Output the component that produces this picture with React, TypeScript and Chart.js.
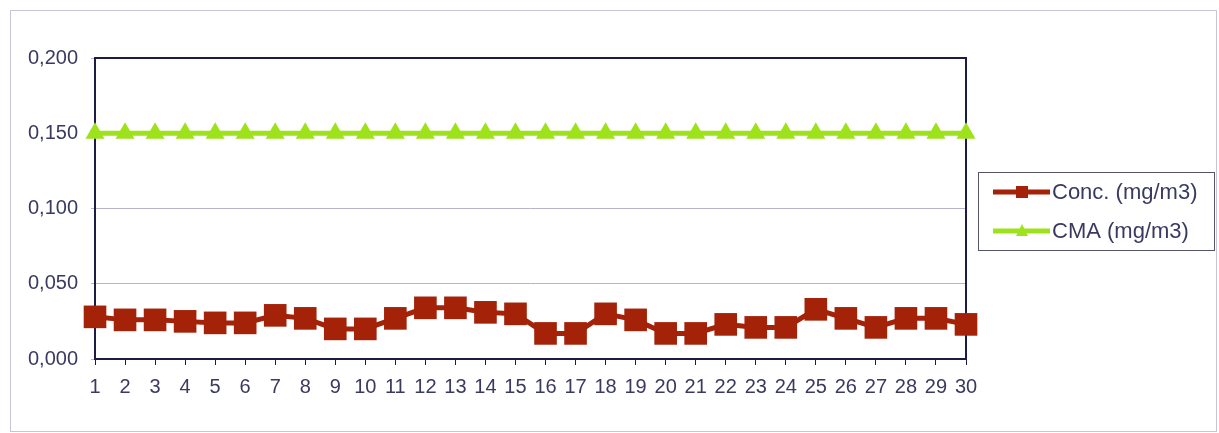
import React, { useEffect, useRef } from "react";
import { Chart, registerables } from "chart.js";

Chart.register(...registerables);

const categories: string[] = Array.from({ length: 30 }, (_, i) => String(i + 1));
const concValues: number[] = [
  0.028, 0.026, 0.026, 0.025, 0.024, 0.024, 0.029, 0.027, 0.020, 0.020,
  0.027, 0.034, 0.034, 0.031, 0.030, 0.017, 0.017, 0.030, 0.026, 0.017,
  0.017, 0.023, 0.021, 0.021, 0.033, 0.027, 0.021, 0.027, 0.027, 0.023,
];
const cmaValues: number[] = [
  0.15, 0.15, 0.15, 0.15, 0.15, 0.15, 0.15, 0.15, 0.15, 0.15,
  0.15, 0.15, 0.15, 0.15, 0.15, 0.15, 0.15, 0.15, 0.15, 0.15,
  0.15, 0.15, 0.15, 0.15, 0.15, 0.15, 0.15, 0.15, 0.15, 0.15,
];
const seriesLabels: string[] = ["Conc. (mg/m3)", "CMA (mg/m3)"];
const yTicks: number[] = [0, 0.05, 0.1, 0.15, 0.2];

const FONT = "'Liberation Sans', Arial, sans-serif";
const TEXT_COLOR = "#3a3a60";
const CONC_COLOR = "#a32208";
const CMA_COLOR = "#9ee21c";

const framePlugin = {
  id: "frame",
  beforeDraw(chart: any) {
    const ctx = chart.ctx;
    ctx.save();
    ctx.fillStyle = "#ffffff";
    ctx.fillRect(0, 0, chart.width, chart.height);
    ctx.strokeStyle = "#c9c4dc";
    ctx.lineWidth = 1;
    ctx.strokeRect(10.5, 10.5, chart.width - 13, chart.height - 12);
    ctx.restore();
  },
  beforeDatasetsDraw(chart: any) {
    const { ctx, chartArea } = chart;
    ctx.save();
    ctx.strokeStyle = "#1c1c44";
    ctx.lineWidth = 2;
    ctx.strokeRect(chartArea.left, chartArea.top, chartArea.right - chartArea.left, chartArea.bottom - chartArea.top);
    ctx.restore();
  },
  afterDraw(chart: any) {
    const ctx = chart.ctx;
    const x = 978, y = 172, w = 236, h = 78;
    ctx.save();
    ctx.strokeStyle = "#55556a";
    ctx.lineWidth = 1;
    ctx.strokeRect(x + 0.5, y + 0.5, w, h);
    const entries = [
      { label: chart.data.datasets[0].label, color: CONC_COLOR, shape: "rect", cy: y + 20 },
      { label: chart.data.datasets[1].label, color: CMA_COLOR, shape: "tri", cy: y + 59 },
    ];
    ctx.font = `22px ${FONT}`;
    ctx.textBaseline = "middle";
    for (const e of entries) {
      ctx.strokeStyle = e.color;
      ctx.fillStyle = e.color;
      ctx.lineWidth = 5;
      ctx.beginPath();
      ctx.moveTo(993, e.cy);
      ctx.lineTo(1050, e.cy);
      ctx.stroke();
      if (e.shape === "rect") {
        ctx.fillRect(1016, e.cy - 6, 12, 12);
      } else {
        ctx.beginPath();
        ctx.moveTo(1022, e.cy - 7);
        ctx.lineTo(1028, e.cy + 5);
        ctx.lineTo(1016, e.cy + 5);
        ctx.closePath();
        ctx.fill();
      }
      ctx.fillStyle = TEXT_COLOR;
      ctx.fillText(e.label, 1052, e.cy + 1);
    }
    ctx.restore();
  },
};

export default function App() {
  const ref = useRef<HTMLCanvasElement | null>(null);
  useEffect(() => {
    document.body.style.margin = "0";
    if (!ref.current) return;
    const chart = new Chart(ref.current, {
      type: "line",
      data: {
        labels: categories,
        datasets: [
          {
            label: seriesLabels[0],
            data: concValues,
            borderColor: CONC_COLOR,
            backgroundColor: CONC_COLOR,
            borderWidth: 5,
            pointStyle: "rect",
            pointRadius: 16,
            pointBorderWidth: 0,
            tension: 0,
          },
          {
            label: seriesLabels[1],
            data: cmaValues,
            borderColor: CMA_COLOR,
            backgroundColor: CMA_COLOR,
            borderWidth: 5,
            pointStyle: "triangle",
            pointRadius: 11,
            pointBorderWidth: 0,
            tension: 0,
          },
        ],
      },
      options: {
        responsive: false,
        animation: false,
        layout: { padding: { top: 58, right: 253, bottom: 30, left: 0 } },
        plugins: { legend: { display: false }, tooltip: { enabled: false } },
        scales: {
          x: {
            offset: false,
            grid: { display: true, drawOnChartArea: false, drawTicks: true, tickLength: 6, color: "#1c1c44" },
            border: { display: false },
            ticks: {
              color: TEXT_COLOR,
              font: { family: FONT, size: 20 },
              padding: 10,
              maxRotation: 0,
              autoSkip: false,
            },
            afterFit(scale: any) { scale.height = 44; },
          },
          y: {
            min: 0,
            max: 0.2,
            afterBuildTicks(scale: any) { scale.ticks = yTicks.map((v) => ({ value: v })); },
            grid: { color: "#b4b4cc", lineWidth: 1, tickLength: 4, drawTicks: true },
            border: { display: false },
            ticks: {
              color: TEXT_COLOR,
              font: { family: FONT, size: 20 },
              padding: 13,
              callback: (v: any) => Number(v).toFixed(3).replace(".", ","),
            },
            afterFit(scale: any) { scale.width = 95; },
          },
        },
      },
      plugins: [framePlugin],
    });
    return () => chart.destroy();
  }, []);
  return (
    <div style={{ width: 1219, height: 433 }}>
      <canvas ref={ref} width={1219} height={433} style={{ display: "block" }} />
    </div>
  );
}
